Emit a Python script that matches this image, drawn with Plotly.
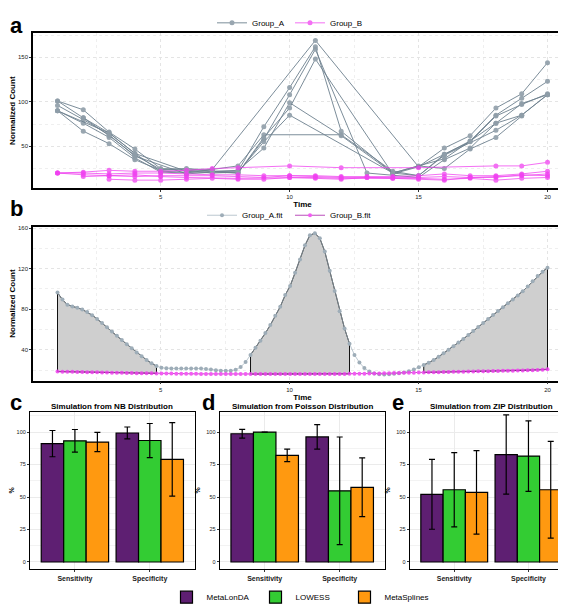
import numpy as np
import plotly.graph_objects as go

# ---------------- Panel a: raw normalized counts ----------------
group_a_times = [
    [1, 2, 3, 4, 5, 7, 11, 15, 16, 17, 18, 19, 20],
    [1, 2, 3, 4, 5, 6, 8, 9, 10, 11, 12, 14, 15, 16, 17, 18, 19, 20],
    [1, 2, 3, 4, 6, 7, 8, 9, 10, 11, 13, 15, 16, 17, 18, 19, 20],
    [1, 2, 3, 4, 5, 6, 8, 9, 12, 14, 15, 16, 18, 19, 20],
    [1, 2, 3, 4, 5, 6, 7, 8, 9, 10, 12, 14, 15, 16, 17, 18, 19],
    [2, 3, 4, 5, 7, 8, 9, 10, 11, 14, 15, 16, 17, 18, 19, 20],
    [1, 3, 4, 6, 7, 8, 9, 10, 14, 16, 17, 18, 19, 20],
]
group_a_values = [
    [101, 91, 66, 47, 25, 24, 169, 27, 48, 62, 93, 109, 144],
    [101, 82, 65, 42, 22, 21, 22, 72, 116, 162, 67, 20, 17, 41, 56, 85, 104, 123],
    [96, 80, 63, 39, 19, 21, 20, 58, 108, 159, 20, 15, 35, 48, 76, 98, 108],
    [90, 76, 60, 37, 21, 20, 28, 63, 63, 22, 17, 40, 68, 85, 108],
    [90, 67, 53, 35, 23, 25, 22, 23, 48, 99, 62, 20, 28, 25, 47, 60, 84],
    [82, 62, 40, 24, 22, 20, 60, 93, 148, 19, 27, 41, 55, 84, 97, 109],
    [90, 65, 42, 22, 20, 21, 55, 85, 20, 36, 56, 76, 85, 108],
]
group_b_times = [
    [1, 2, 3, 4, 5, 6, 7, 8, 10, 12, 15, 18, 19, 20],
    [1, 2, 3, 4, 5, 6, 7, 8, 9, 10, 11, 12, 13, 14, 15, 16, 17, 18, 19, 20],
    [2, 3, 4, 5, 6, 7, 8, 9, 10, 11, 12, 13, 14, 15, 16, 17, 18, 19, 20],
    [3, 4, 5, 6, 7, 8, 9, 10, 11, 12, 13, 14, 15, 16, 17, 18, 19, 20],
    [1, 2, 3, 4, 5, 6, 8, 10, 11, 12, 14, 15, 16, 17, 18, 19, 20],
]
group_b_values = [
    [20, 21, 23, 22, 22, 23, 25, 26, 28, 26, 26, 28, 28, 32],
    [20, 20, 19, 20, 20, 19, 18, 18, 17, 17, 17, 16, 16, 16, 17, 19, 17, 17, 19, 22],
    [16, 17, 16, 17, 17, 17, 16, 15, 17, 16, 15, 15, 15, 15, 16, 15, 16, 17, 19],
    [13, 12, 12, 13, 14, 13, 13, 15, 14, 13, 15, 14, 14, 13, 14, 12, 14, 15],
    [20, 18, 17, 18, 16, 15, 14, 15, 15, 14, 14, 13, 12, 15, 15, 18, 17],
]

# ---------------- Panel b: fitted curves ----------------
fit_time = np.linspace(1, 20, 100)
group_a_fit = [
    96.4, 89.5, 84.5, 82.6, 81.4, 79.8, 77.3, 74.2, 70.5, 66.5,
    62.3, 58.0, 53.8, 49.6, 45.5, 41.5, 37.4, 33.6, 30.0, 26.8,
    24.0, 22.3, 21.8, 21.6, 21.5, 21.5, 21.6, 21.7, 21.7, 21.6,
    21.2, 20.6, 20.0, 19.5, 19.3, 19.5, 20.4, 23.0, 28.0, 35.0,
    42.0, 49.0, 56.5, 64.5, 73.5, 82.5, 94.0, 103.0, 116.0, 129.0,
    143.0, 153.0, 155.0, 150.0, 137.0, 118.0, 98.0, 78.0, 61.0, 46.0,
    35.0, 27.5, 22.0, 18.6, 16.8, 16.0, 15.8, 16.0, 16.4, 17.0,
    17.6, 18.8, 20.6, 22.8, 25.0, 27.2, 30.0, 33.2, 36.6, 40.0,
    43.5, 47.2, 50.8, 54.6, 58.5, 62.4, 66.5, 70.4, 74.3, 78.2,
    82.0, 85.8, 89.6, 93.5, 97.8, 102.5, 107.5, 112.8, 117.0, 121.0,
]
group_b_fit = [
    18.6, 18.5, 18.4, 18.3, 18.2, 18.1, 18.0, 17.9, 17.8, 17.7,
    17.6, 17.5, 17.4, 17.3, 17.2, 17.1, 17.0, 16.95, 16.9, 16.85,
    16.8, 16.7, 16.65, 16.6, 16.55, 16.5, 16.45, 16.4, 16.35, 16.3,
    16.3, 16.25, 16.2, 16.2, 16.15, 16.15, 16.1, 16.1, 16.1, 16.1,
    16.1, 16.1, 16.1, 16.1, 16.1, 16.1, 16.1, 16.1, 16.1, 16.1,
    16.1, 16.1, 16.1, 16.15, 16.15, 16.2, 16.2, 16.25, 16.3, 16.35,
    16.4, 16.45, 16.5, 16.6, 16.7, 16.8, 16.9, 17.0, 17.1, 17.2,
    17.3, 17.4, 17.5, 17.6, 17.7, 17.8, 17.9, 18.0, 18.1, 18.2,
    18.3, 18.4, 18.5, 18.6, 18.7, 18.8, 18.9, 19.0, 19.1, 19.2,
    19.3, 19.4, 19.5, 19.6, 19.7, 19.8, 19.9, 20.1, 20.4, 20.8,
]
sig_intervals = [(1.0, 5.03), (8.40, 12.40), (15.20, 20.0)]

# ---------------- Panels c-e: simulation results ----------------
metrics = ["Sensitivity", "Specificity"]
methods = ["MetaLonDA", "LOWESS", "MetaSplines"]
method_colors = ["#5E1F72", "#33CC33", "#FF9910"]
sim_titles = ["Simulation from NB Distribution",
              "Simulation from Poisson Distribution",
              "Simulation from ZIP Distribution"]
nb_mean = [[91.1, 99.3], [93.3, 93.5], [92.3, 79.0]]
nb_sd = [[10.1, 4.6], [8.7, 13.1], [7.4, 28.3]]
pois_mean = [[98.7, 96.3], [100.0, 54.8], [82.0, 57.5]]
pois_sd = [[3.4, 9.4], [0.0, 41.4], [4.8, 22.6]]
zip_mean = [[52.1, 82.7], [55.6, 81.5], [53.6, 55.6]]
zip_sd = [[26.9, 30.5], [28.6, 27.1], [32.1, 37.2]]

# ---------------- Layout helpers ----------------
W, H = 566, 604


def fx(px):
    return px / W


def fy(py):
    return 1 - py / H


FONT = "Liberation Sans, Arial, sans-serif"
A_LINE = "#6F8290"
A_MARK = "#8E9DA8"
B_COL = "#F040F0"

fig = go.Figure()

# Panel a traces
for i, (t, v) in enumerate(zip(group_a_times, group_a_values)):
    fig.add_trace(go.Scatter(
        x=t, y=v, mode="lines+markers", name="Group_A",
        line=dict(color=A_LINE, width=1), marker=dict(color=A_MARK, size=5),
        opacity=0.9, showlegend=(i == 0), legend="legend",
        xaxis="x", yaxis="y"))
for i, (t, v) in enumerate(zip(group_b_times, group_b_values)):
    fig.add_trace(go.Scatter(
        x=t, y=v, mode="lines+markers", name="Group_B",
        line=dict(color=B_COL, width=1), marker=dict(color=B_COL, size=5),
        opacity=0.75, showlegend=(i == 0), legend="legend",
        xaxis="x", yaxis="y"))

# Panel b traces
ft = np.asarray(fit_time)
fa = np.asarray(group_a_fit)
fb = np.asarray(group_b_fit)
for lo, hi in sig_intervals:
    m = (ft >= lo - 1e-9) & (ft <= hi + 1e-9)
    xs = list(ft[m]) + list(ft[m][::-1])
    ys = list(fa[m]) + list(fb[m][::-1])
    fig.add_trace(go.Scatter(
        x=xs + [xs[0]], y=ys + [ys[0]], mode="lines", fill="toself",
        fillcolor="#CFCFCF", line=dict(color="#111111", width=1),
        showlegend=False, hoverinfo="skip", xaxis="x2", yaxis="y2"))
fig.add_trace(go.Scatter(
    x=fit_time, y=group_a_fit, mode="lines+markers", name="Group_A.fit",
    line=dict(color="#9FB0BC", width=0.7), marker=dict(color="#9EADB8", size=4),
    legend="legend2", xaxis="x2", yaxis="y2"))
fig.add_trace(go.Scatter(
    x=fit_time, y=group_b_fit, mode="lines+markers", name="Group_B.fit",
    line=dict(color="#B030B0", width=1), marker=dict(color=B_COL, size=4),
    opacity=0.85, legend="legend2", xaxis="x2", yaxis="y2"))

# Panels c-e bars
sims = [(nb_mean, nb_sd), (pois_mean, pois_sd), (zip_mean, zip_sd)]
for p, (means, sds) in enumerate(sims):
    ax = str(p + 3)
    for k, meth in enumerate(methods):
        fig.add_trace(go.Bar(
            x=metrics, y=means[k], name=meth,
            marker=dict(color=method_colors[k], line=dict(color="black", width=1.2)),
            error_y=dict(type="data", array=sds[k], visible=True,
                         color="black", thickness=1.2, width=3),
            showlegend=(p == 0), legend="legend3", offsetgroup=str(k),
            xaxis="x" + ax, yaxis="y" + ax))

# ---------------- Axes ----------------
frame = dict(showline=True, mirror=True, linecolor="black", linewidth=1.5,
             ticks="outside", ticklen=2, tickcolor="#333333",
             tickfont=dict(size=6, color="#222222"), zeroline=False)
gridab = dict(showgrid=True, gridcolor="#E4E4E4", griddash="dot", gridwidth=0.6)
minor_ab = dict(showgrid=True, gridcolor="#EFEFEF", griddash="dot")

xa = [fx(25), fx(564)]
layout = dict(
    width=W, height=H, margin=dict(l=0, r=0, t=0, b=0),
    paper_bgcolor="white", plot_bgcolor="white",
    font=dict(family=FONT, color="black"),
    barmode="group", bargap=0.1, bargroupgap=0,
    xaxis=dict(domain=xa, anchor="y", range=[0.05, 20.95], tickvals=[5, 10, 15, 20],
               minor=dict(dtick=2.5, tick0=0, **minor_ab),
               title=dict(text="<b>Time</b>", font=dict(size=8), standoff=1),
               **frame, **gridab),
    yaxis=dict(domain=[fy(175.7), fy(16)], anchor="x", range=[3.3, 176.8],
               tickvals=[50, 100, 150],
               minor=dict(dtick=25, tick0=0, **minor_ab),
               title=dict(text="<b>Normalized Count</b>", font=dict(size=8), standoff=3),
               **frame, **gridab),
    xaxis2=dict(domain=xa, anchor="y2", range=[0.05, 20.95], tickvals=[5, 10, 15, 20],
                minor=dict(dtick=2.5, tick0=0, **minor_ab),
                title=dict(text="<b>Time</b>", font=dict(size=8), standoff=1),
                **frame, **gridab),
    yaxis2=dict(domain=[fy(375), fy(215.7)], anchor="x2", range=[9.7, 161.5],
                tickvals=[40, 80, 120, 160],
                minor=dict(dtick=20, tick0=0, **minor_ab),
                title=dict(text="<b>Normalized Count</b>", font=dict(size=8), standoff=3),
                **frame, **gridab),
)

bar_x = [(22, 186.7), (211.7, 376.7), (401.7, 565)]
bframe = dict(showline=True, mirror=True, linecolor="black", linewidth=1.2,
              ticks="outside", ticklen=2, tickcolor="#333333", zeroline=False)
for p, (l, r) in enumerate(bar_x):
    ax = str(p + 3)
    layout["xaxis" + ax] = dict(
        domain=[fx(l), fx(r)], anchor="y" + ax, type="category",
        range=[-0.6, 1.6], showgrid=True, gridcolor="#EBEBEB",
        ticktext=["<b>Sensitivity</b>", "<b>Specificity</b>"], tickvals=metrics,
        tickfont=dict(size=7, color="#222222"), **bframe)
    layout["yaxis" + ax] = dict(
        domain=[fy(570), fy(407.3)], anchor="x" + ax, range=[-5.5, 115.6],
        tickvals=[0, 25, 50, 75, 100], showgrid=True, gridcolor="#EBEBEB",
        minor=dict(dtick=12.5, tick0=0, showgrid=True, gridcolor="#F3F3F3"),
        tickfont=dict(size=5.5, color="#222222"),
        title=dict(text="<b>%</b>", font=dict(size=7), standoff=4), **bframe)

leg_common = dict(orientation="h", xanchor="center", yanchor="middle",
                  font=dict(size=8), itemwidth=30, bgcolor="rgba(0,0,0,0)",
                  entrywidthmode="pixels")
layout["legend"] = dict(x=fx(282), y=fy(5), entrywidth=33, **leg_common)
layout["legend2"] = dict(x=fx(282), y=fy(204), entrywidth=43, **leg_common)
layout["legend3"] = dict(x=fx(292), y=fy(599), entrywidth=44, **leg_common)

annots = []
for lab, (px, py) in zip("abcde", [(8, 8), (8, 197), (8, 398), (200, 398), (390, 398)]):
    annots.append(dict(text="<b>%s</b>" % lab, x=fx(px), y=fy(py), xref="paper", yref="paper",
                       showarrow=False, font=dict(size=22, color="black"),
                       xanchor="center", yanchor="middle"))
for title, (l, r) in zip(sim_titles, bar_x):
    annots.append(dict(text="<b>%s</b>" % title, x=fx((l + r) / 2), y=fy(401.5), xref="paper",
                       yref="paper", showarrow=False, font=dict(size=8, color="black"),
                       xanchor="center", yanchor="middle"))
layout["annotations"] = annots

fig.update_layout(**layout)
fig.write_html("out.html")
